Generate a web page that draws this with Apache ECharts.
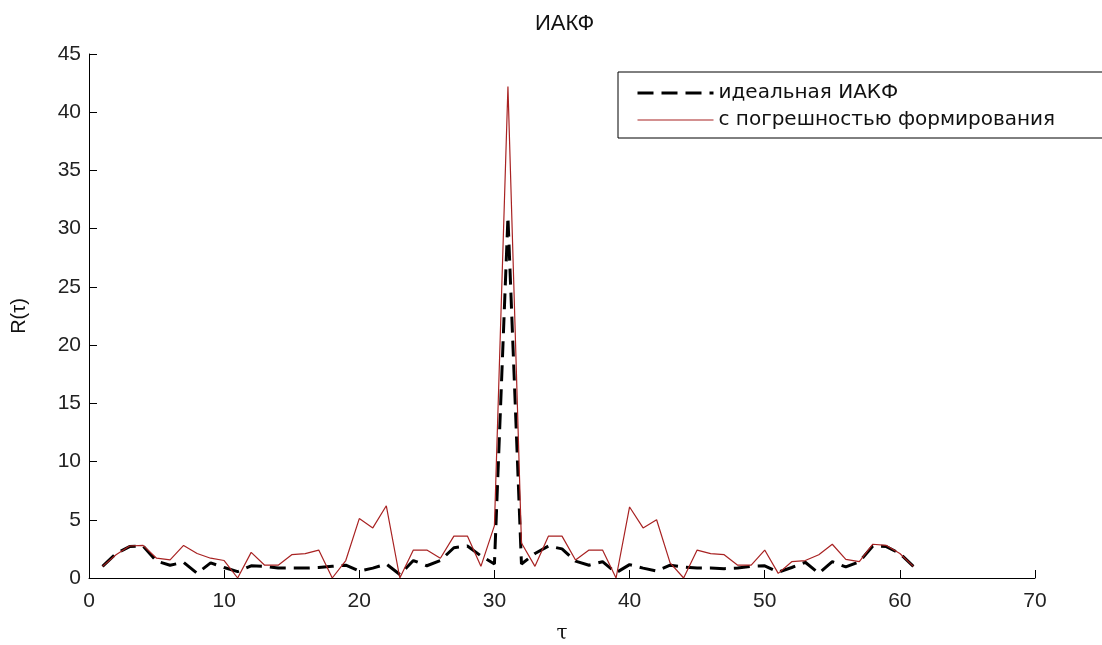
<!DOCTYPE html>
<html>
<head>
<meta charset="utf-8">
<title>ИАКФ</title>
<script src="https://cdn.jsdelivr.net/npm/echarts@6/dist/echarts.min.js"></script>
<style>
  html, body { margin: 0; padding: 0; background: #fff; }
  #container { width: 1102px; height: 645px; }
</style>
</head>
<body>
<div id="container"></div>
<script>
// shift index
var tau = [1, 2, 3, 4, 5, 6, 7, 8, 9, 10,
  11, 12, 13, 14, 15, 16, 17, 18, 19, 20,
  21, 22, 23, 24, 25, 26, 27, 28, 29, 30,
  31, 32, 33, 34, 35, 36, 37, 38, 39, 40,
  41, 42, 43, 44, 45, 46, 47, 48, 49, 50,
  51, 52, 53, 54, 55, 56, 57, 58, 59, 60, 61];

// идеальная ИАКФ
var ideal = [1.0, 2.1, 2.7, 2.75, 1.45, 1.1, 1.35, 0.4, 1.3, 0.9,
  0.55, 1.05, 1.0, 0.85, 0.85, 0.85, 0.9, 1.0, 1.1, 0.6,
  0.85, 1.2, 0.3, 1.5, 1.05, 1.5, 2.6, 2.75, 1.9, 1.2,
  31.0, 1.2, 2.1, 2.75, 2.5, 1.45, 1.1, 1.4, 0.45, 1.15,
  0.85, 0.6, 1.1, 0.95, 0.85, 0.85, 0.8, 0.85, 1.0, 1.05,
  0.5, 0.9, 1.35, 0.4, 1.4, 0.95, 1.4, 2.75, 2.7, 2.1, 1.0];

// с погрешностью формирования
var withError = [1.0, 2.0, 2.75, 2.8, 1.7, 1.55, 2.8, 2.1, 1.7, 1.5,
  0.0, 2.2, 1.1, 1.1, 2.0, 2.1, 2.4, 0.0, 1.5, 5.1,
  4.3, 6.2, 0.0, 2.4, 2.4, 1.7, 3.6, 3.6, 1.0, 4.5,
  42.2, 3.0, 1.0, 3.6, 3.6, 1.55, 2.4, 2.4, 0.0, 6.1,
  4.3, 5.0, 1.3, 0.0, 2.4, 2.1, 2.0, 1.1, 1.1, 2.4,
  0.4, 1.4, 1.5, 2.0, 2.9, 1.6, 1.4, 2.9, 2.8, 2.1, 1.0];

function pairs(ys) {
  var out = [];
  for (var i = 0; i < tau.length; i++) out.push([tau[i], ys[i]]);
  return out;
}

var font = 'Liberation Sans';
var dom = document.getElementById('container');
var myChart = echarts.init(dom, null, { renderer: 'canvas' });

var option = {
  backgroundColor: '#fff',
  animation: false,
  title: {
    text: 'ИАКФ',
    left: 530,
    top: 8,
    textStyle: { fontFamily: font, fontSize: 22, fontWeight: 'normal', color: '#111' }
  },
  legend: {
    orient: 'vertical',
    left: 618,
    top: 72,
    itemWidth: 76,
    itemHeight: 14,
    itemGap: 7,
    padding: [11, 200, 8, 18],
    borderColor: '#000',
    borderWidth: 1,
    backgroundColor: '#fff',
    itemStyle: { opacity: 0 },
    textStyle: { fontFamily: 'DejaVu Sans', fontSize: 20, color: '#111' },
    data: [
      { name: 'идеальная ИАКФ', lineStyle: { width: 3 }, itemStyle: { opacity: 0 } },
      { name: 'с погрешностью формирования', lineStyle: { width: 1.2 }, itemStyle: { opacity: 0 } }
    ]
  },
  grid: { left: 89, right: 67, top: 54, bottom: 67, outerBoundsMode: 'none', containLabel: false },
  xAxis: {
    type: 'value',
    min: 0, max: 70, interval: 10,
    name: 'τ',
    nameLocation: 'middle',
    nameGap: 46,
    nameTextStyle: { fontFamily: 'DejaVu Serif', fontSize: 20, color: '#111' },
    axisLine: { lineStyle: { color: '#000', width: 1 } },
    axisTick: { inside: true, length: 8, lineStyle: { color: '#000' } },
    axisLabel: { fontFamily: font, fontSize: 21, color: '#222', margin: 13 },
    splitLine: { show: false }
  },
  yAxis: {
    type: 'value',
    min: 0, max: 45, interval: 5,
    name: 'R(τ)',
    nameLocation: 'middle',
    nameGap: 60,
    nameTextStyle: { fontFamily: font, fontSize: 20, color: '#111' },
    axisLine: { show: true, lineStyle: { color: '#000', width: 1 } },
    axisTick: { show: true, inside: true, length: 8, lineStyle: { color: '#000' } },
    axisLabel: { fontFamily: font, fontSize: 21, color: '#222', margin: 8 },
    splitLine: { show: false }
  },
  series: [
    {
      name: 'идеальная ИАКФ',
      type: 'line',
      symbol: 'none',
      z: 2,
      lineStyle: { color: '#000', width: 3, type: [16, 8] },
      itemStyle: { color: '#000' },
      data: pairs(ideal)
    },
    {
      name: 'с погрешностью формирования',
      type: 'line',
      symbol: 'none',
      z: 3,
      lineStyle: { color: '#a82222', width: 1.2 },
      itemStyle: { color: '#a82222' },
      data: pairs(withError)
    }
  ]
};

myChart.setOption(option);
window.addEventListener('resize', myChart.resize);
</script>
</body>
</html>
